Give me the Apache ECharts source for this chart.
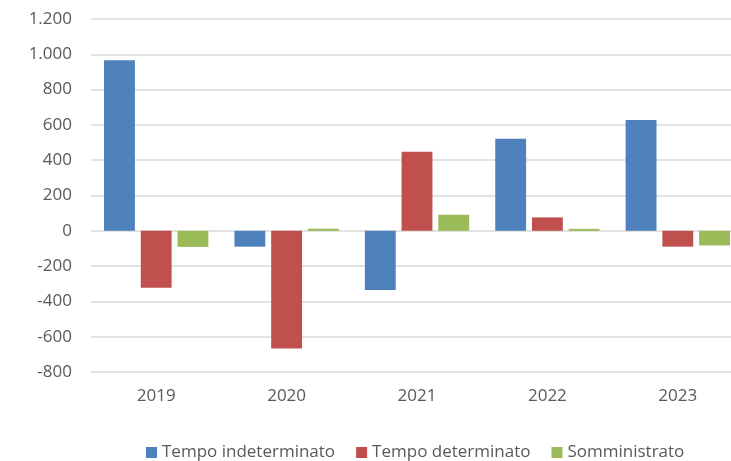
<!DOCTYPE html>
<html>
<head>
<meta charset="utf-8">
<script src="https://cdn.jsdelivr.net/npm/echarts@6/dist/echarts.min.js"></script>
<style>
  html, body { margin: 0; padding: 0; background: #fff; }
  #chart { width: 731px; height: 461px; }
</style>
</head>
<body>
<div id="chart"></div>
<script>
"use strict";

var years = ['2019', '2020', '2021', '2022', '2023'];
var indeterminato = [966, -90, -335, 522, 628];
var determinato = [-323, -667, 448, 76, -90];
var somministrato = [-91, 12, 91, 11, -83];

var seriesNames = ['Tempo indeterminato', 'Tempo determinato', 'Somministrato'];
var colors = ['#4f81bd', '#c0504d', '#9bbb59'];

var myChart = echarts.init(document.getElementById('chart'));

function fmt(v) {
	var s = String(Math.abs(v)).replace(/\B(?=(\d{3})+(?!\d))/g, '.');
	return (v < 0 ? '-' : '') + s;
}

function makeSeries(name, data, i) {
	return {
		name: name,
		type: 'bar',
		data: data,
		barGap: '19%',
		barCategoryGap: '20%',
		itemStyle: { color: colors[i] }
	};
}

var option = {
	animation: false,
	color: colors,
	textStyle: { fontFamily: 'Open Sans' },
	// plot area runs past the right edge of the picture
	grid: { left: 91, width: 652, top: 19, height: 353, outerBoundsMode: 'none', containLabel: false },
	legend: {
		left: 141,
		top: 439,
		itemWidth: 11,
		itemHeight: 11,
		itemGap: 21,
		icon: 'rect',
		textStyle: { color: '#595959', fontSize: 17, fontFamily: 'Open Sans' },
		data: seriesNames
	},
	xAxis: {
		type: 'category',
		data: years,
		axisLine: { show: false },
		axisTick: { show: false },
		axisLabel: { color: '#595959', fontSize: 17, margin: 16 }
	},
	yAxis: {
		type: 'value',
		min: -800,
		max: 1200,
		interval: 200,
		axisLine: { show: false },
		axisTick: { show: false },
		axisLabel: { color: '#595959', fontSize: 17, margin: 19, formatter: fmt },
		splitLine: { lineStyle: { color: '#d9d9d9', width: 1.5 } }
	},
	series: [
		makeSeries(seriesNames[0], indeterminato, 0),
		makeSeries(seriesNames[1], determinato, 1),
		makeSeries(seriesNames[2], somministrato, 2)
	]
};

myChart.setOption(option);
</script>
</body>
</html>
